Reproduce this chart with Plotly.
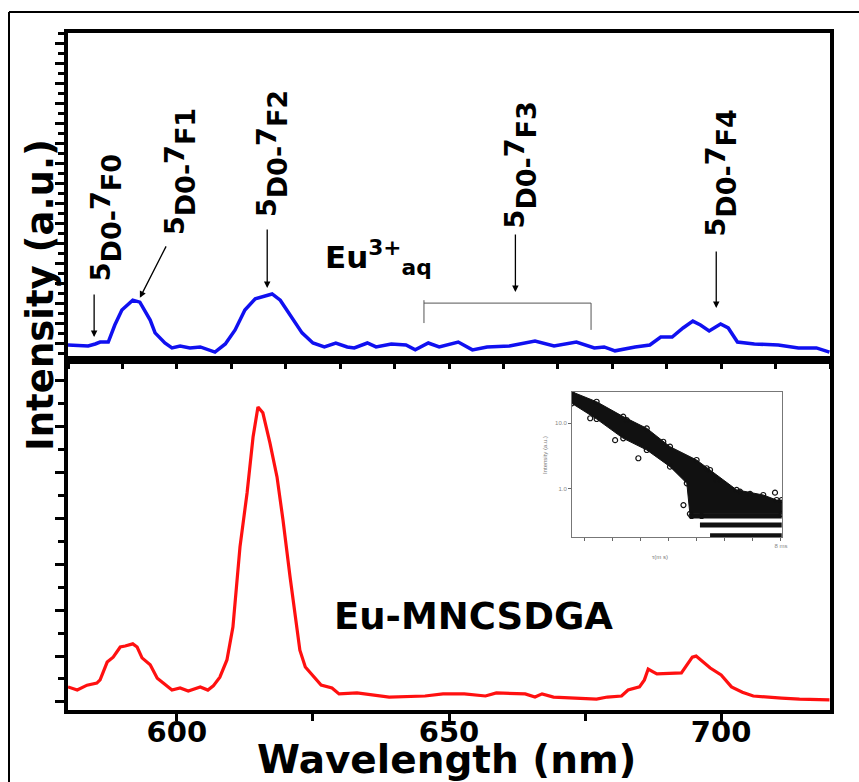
import plotly.graph_objects as go

# ---------------- data ----------------
# Top panel: Eu3+ aq emission (blue)
aq_wl = [580.0, 583.7, 585.0, 585.9, 587.4, 588.6, 589.9, 591.9, 593.2, 595.1, 596.0, 597.8,
         599.1, 600.6, 602.4, 604.3, 607.0, 608.9, 610.7, 612.5, 614.4, 616.2, 617.5, 619.0,
         621.0, 623.0, 625.0, 627.1, 629.2, 631.3, 632.6, 635.0, 636.6, 639.4, 642.1, 643.8,
         646.2, 648.2, 651.7, 654.3, 657.0, 661.1, 665.8, 669.3, 673.4, 676.7, 678.5, 680.5,
         684.2, 686.9, 688.9, 691.0, 693.0, 694.8, 696.2, 697.8, 699.9, 701.3, 703.0, 706.1,
         710.5, 714.2, 717.5, 719.9]
aq_int = [4.6, 4.3, 4.9, 5.5, 5.5, 10.7, 15.3, 18.3, 17.7, 12.2, 8.3, 5.2,
          3.7, 4.3, 3.7, 4.0, 2.4, 4.9, 9.2, 15.3, 18.7, 19.6, 20.2, 18.3,
          13.1, 8.3, 5.2, 4.0, 5.2, 4.0, 3.7, 5.2, 4.0, 4.9, 4.6, 3.1,
          5.2, 4.0, 5.5, 3.1, 4.0, 4.3, 5.8, 4.3, 5.5, 3.7, 4.0, 2.8,
          4.0, 4.6, 7.0, 7.0, 9.8, 11.9, 10.7, 8.9, 11.0, 9.8, 5.5, 4.9,
          4.6, 3.7, 3.7, 2.4]

# Bottom panel: Eu-MNCSDGA emission (red)
mn_wl = [580.0, 581.7, 583.5, 585.3, 585.9, 587.2, 588.3, 589.6, 590.5, 591.9, 592.7, 593.6,
         595.1, 596.4, 597.5, 599.1, 600.6, 602.1, 604.3, 605.7, 606.7, 607.9, 609.2, 610.3,
         611.6, 612.9, 614.0, 614.9, 615.8, 617.1, 618.4, 619.5, 620.8, 622.1, 622.6, 623.6,
         625.2, 626.5, 628.5, 629.8, 633.1, 635.7, 639.0, 645.6, 648.9, 652.8, 656.7, 658.7,
         664.0, 665.8, 667.1, 669.2, 675.0, 677.1, 679.1, 681.7, 682.9, 685.0, 685.9, 686.6,
         687.5, 688.2, 692.7, 694.7, 695.4, 698.0, 700.0, 701.9, 703.9, 705.9, 711.1, 714.4,
         719.9]
mn_int = [6.6, 5.7, 7.1, 7.7, 8.6, 13.7, 15.1, 18.0, 18.3, 18.9, 18.0, 14.9,
          12.9, 9.1, 7.7, 5.7, 6.3, 5.4, 6.6, 5.7, 6.9, 9.4, 14.3, 23.7,
          46.6, 62.0, 78.0, 86.6, 84.9, 76.3, 66.6, 54.3, 38.0, 23.7, 17.1, 12.3,
          9.4, 7.1, 6.3, 4.6, 4.9, 4.3, 3.7, 4.0, 4.6, 4.6, 4.0, 4.9,
          4.6, 3.7, 4.6, 3.7, 3.4, 3.1, 3.7, 4.0, 5.7, 6.6, 8.6, 11.7,
          10.9, 10.3, 10.6, 15.1, 15.4, 12.0, 10.0, 6.6, 5.1, 4.0, 3.4, 3.1,
          2.9]

# Inset: luminescence decay (dense band of points, edges)
band_up_t = [0.53, 1.42, 2.37, 3.21, 4.04, 4.99, 5.47, 6.42, 7.37, 7.85, 8.03]
band_up_i = [29.8, 21.0, 12.5, 8.3, 4.38, 2.75, 1.94, 0.97, 0.81, 0.68, 0.68]
band_lo_t = [0.53, 1.42, 2.37, 3.21, 4.04, 4.64, 4.75, 8.03]
band_lo_i = [19.9, 11.5, 5.86, 3.9, 2.18, 1.22, 0.42, 0.42]
out_t = [1.19, 2.08, 2.49, 2.91, 3.80, 4.52, 5.35, 5.71, 6.54, 6.90, 7.79, 4.81, 5.17]
out_i = [11.8, 5.5, 11.1, 2.92, 5.2, 0.57, 2.06, 1.37, 0.91, 0.84, 0.88, 0.39, 0.39]
row_t = [[4.75, 8.03], [5.11, 8.03], [5.47, 8.03]]
row_i = [0.39, 0.285, 0.196]

# Transition labels
trans_n = ["0", "1", "2", "3", "4"]
x_ticks_major = [600, 650, 700]

# ---------------- figure ----------------
FONT = "DejaVu Sans"
W, H = 859, 782
L, R, T, B = 68, 29, 33, 72
split = (710 - 360) / 677.0

fig = go.Figure()

fig.add_trace(go.Scatter(x=aq_wl, y=aq_int, mode="lines", xaxis="x2", yaxis="y2",
                         line=dict(color="#1010f0", width=3.5), showlegend=False))
fig.add_trace(go.Scatter(x=mn_wl, y=mn_int, mode="lines", xaxis="x", yaxis="y",
                         line=dict(color="#ff1010", width=3.2), showlegend=False))

# inset band
fig.add_trace(go.Scatter(x=band_up_t + band_lo_t[::-1], y=band_up_i + band_lo_i[::-1],
                         mode="lines", fill="toself", fillcolor="#111111",
                         line=dict(color="#111111", width=1), xaxis="x3", yaxis="y3",
                         showlegend=False))
for rt, ri in zip(row_t, row_i):
    fig.add_trace(go.Scatter(x=rt, y=[ri, ri], mode="lines", line=dict(color="#111111", width=5),
                             xaxis="x3", yaxis="y3", showlegend=False))
fig.add_trace(go.Scatter(x=band_up_t + band_lo_t + out_t, y=band_up_i + band_lo_i + out_i,
                         mode="markers", marker=dict(symbol="circle-open", size=5, color="#111111",
                                                     line=dict(width=1.2)),
                         xaxis="x3", yaxis="y3", showlegend=False))

axis_line = dict(showline=True, linecolor="black", linewidth=4, mirror=True, zeroline=False,
                 showgrid=False)

fig.update_layout(
    width=W, height=H, margin=dict(l=L, r=R, t=T, b=B),
    paper_bgcolor="white", plot_bgcolor="rgba(0,0,0,0)",
    xaxis=dict(domain=[0, 1], anchor="y", range=[580, 720], tickvals=x_ticks_major,
               ticks="outside", ticklen=7, tickwidth=3, tickcolor="black",
               ticklabelstandoff=-14,
               tickfont=dict(family=FONT, size=29, color="black", weight="bold"),
               minor=dict(dtick=25, tick0=600, ticks="outside", ticklen=7, tickwidth=3,
                          tickcolor="black"),
               **axis_line),
    yaxis=dict(domain=[0, split], anchor="x", range=[0, 100], showticklabels=False,
               tick0=2.29, dtick=13.14, ticks="outside", ticklen=9, tickwidth=3,
               tickcolor="black",
               minor=dict(dtick=6.57, tick0=2.29, ticks="outside", ticklen=6, tickwidth=3,
                          tickcolor="black"),
               **axis_line),
    xaxis2=dict(domain=[0, 1], anchor="y2", range=[580, 720], showticklabels=False,
                tick0=580, dtick=10, ticks="outside", ticklen=5, tickwidth=3, tickcolor="black",
                **axis_line),
    yaxis2=dict(domain=[split, 1], anchor="x2", range=[0, 100], showticklabels=False,
                tick0=5.2, dtick=6.116, ticks="outside", ticklen=9, tickwidth=3,
                tickcolor="black",
                minor=dict(dtick=3.058, tick0=5.2, ticks="outside", ticklen=6, tickwidth=3,
                           tickcolor="black"),
                **axis_line),
    xaxis3=dict(domain=[(572 - 68) / 762, (782 - 68) / 762], anchor="y3", range=[0.54, 8.04],
                tickvals=[1, 2, 3, 4, 5, 6, 7, 8], ticktext=["", "", "", "", "", "", "", "8 ms"],
                ticks="outside", ticklen=3, tickwidth=1, tickcolor="#666",
                tickfont=dict(family="Arial", size=6, color="#888"),
                showline=True, linecolor="#777", linewidth=1, mirror=True, showgrid=False,
                zeroline=False),
    yaxis3=dict(domain=[(710 - 537) / 677, (710 - 392) / 677], anchor="x3", type="log",
                range=[-0.728, 1.47], tickvals=[1, 10], ticktext=["1.0", "10.0"],
                ticks="outside", ticklen=3, tickwidth=1, tickcolor="#666",
                tickfont=dict(family="Arial", size=6, color="#888"),
                showline=True, linecolor="#777", linewidth=1, mirror=True, showgrid=False,
                zeroline=False),
)

def px_x(x):
    return (x - L) / 762.0

def px_y(y):
    return (710 - y) / 677.0

ann = []
# axis titles
ann.append(dict(text="Intensity (a.u.)", textangle=-90, xref="paper", yref="paper",
                x=px_x(40), y=px_y(295), showarrow=False, xanchor="center", yanchor="middle",
                font=dict(family=FONT, size=37, color="black", weight="bold")))
ann.append(dict(text="Wavelength (nm)", xref="paper", yref="paper",
                x=px_x(446), y=px_y(759), showarrow=False, xanchor="center", yanchor="middle",
                font=dict(family=FONT, size=39, color="black", weight="bold")))

# transition labels (positions in top-panel data coords)
lab_x = [587.0, 600.6, 617.5, 663.1, 699.9]
lab_y = [43.4, 57.5, 63.0, 59.6, 57.2]
for n, lx, ly in zip(trans_n, lab_x, lab_y):
    txt = ("<sup><span style='font-size:27px'>5</span></sup>D0-"
           "<sup><span style='font-size:27px'>7</span></sup>F%s" % n)
    ann.append(dict(text=txt, textangle=-90, xref="x2", yref="y2", x=lx, y=ly,
                    showarrow=False, xanchor="center", yanchor="middle",
                    font=dict(family=FONT, size=27, color="black", weight="bold")))

# arrows: head position (data) and tail offset (px)
arr_x = [584.8, 593.2, 616.6, 662.2, 699.1]
arr_y = [7.0, 19.0, 22.0, 20.8, 15.9]
arr_ax = [0, 27, 0, 0, 0]
arr_ay = [-44, -53, -60, -59, -58]
for hx, hy, axo, ayo in zip(arr_x, arr_y, arr_ax, arr_ay):
    ann.append(dict(text="", xref="x2", yref="y2", x=hx, y=hy, ax=axo, ay=ayo,
                    showarrow=True, arrowhead=2, arrowsize=1, arrowwidth=1.3,
                    arrowcolor="black", standoff=0, startstandoff=0))

ann.append(dict(text="Eu<sup>3+</sup><sub>aq</sub>", xref="x2", yref="y2", x=626.9, y=31.5,
                showarrow=False, xanchor="left", yanchor="middle",
                font=dict(family=FONT, size=31, color="black", weight="bold")))
ann.append(dict(text="Eu-MNCSDGA", xref="x", yref="y", x=654.5, y=26.6,
                showarrow=False, xanchor="center", yanchor="middle",
                font=dict(family=FONT, size=37, color="black", weight="bold")))

# inset titles
ann.append(dict(text="Intensity (a.u.)", textangle=-90, xref="paper", yref="paper",
                x=px_x(545), y=px_y(455), showarrow=False,
                font=dict(family="Arial", size=6, color="#777")))
ann.append(dict(text="τ(m s)", xref="paper", yref="paper",
                x=px_x(670), y=px_y(562), showarrow=False,
                font=dict(family="Arial", size=6, color="#777")))
fig.update_layout(annotations=ann)

# bracket for 5D0-7F3 band and outer frame lines
shapes = [
    dict(type="line", xref="x2", yref="y2", x0=645.4, x1=676.1, y0=17.4, y1=17.4,
         line=dict(color="#555", width=1)),
    dict(type="line", xref="x2", yref="y2", x0=645.4, x1=645.4, y0=18.3, y1=11.3,
         line=dict(color="#555", width=1)),
    dict(type="line", xref="x2", yref="y2", x0=676.1, x1=676.1, y0=17.4, y1=9.2,
         line=dict(color="#555", width=1)),
    dict(type="line", xref="paper", yref="paper", x0=px_x(9), x1=px_x(9), y0=px_y(12),
         y1=px_y(782), line=dict(color="black", width=2)),
    dict(type="line", xref="paper", yref="paper", x0=px_x(9), x1=px_x(859), y0=px_y(12),
         y1=px_y(12), line=dict(color="black", width=2)),
]
fig.update_layout(shapes=shapes)

fig.write_html("out.html")
